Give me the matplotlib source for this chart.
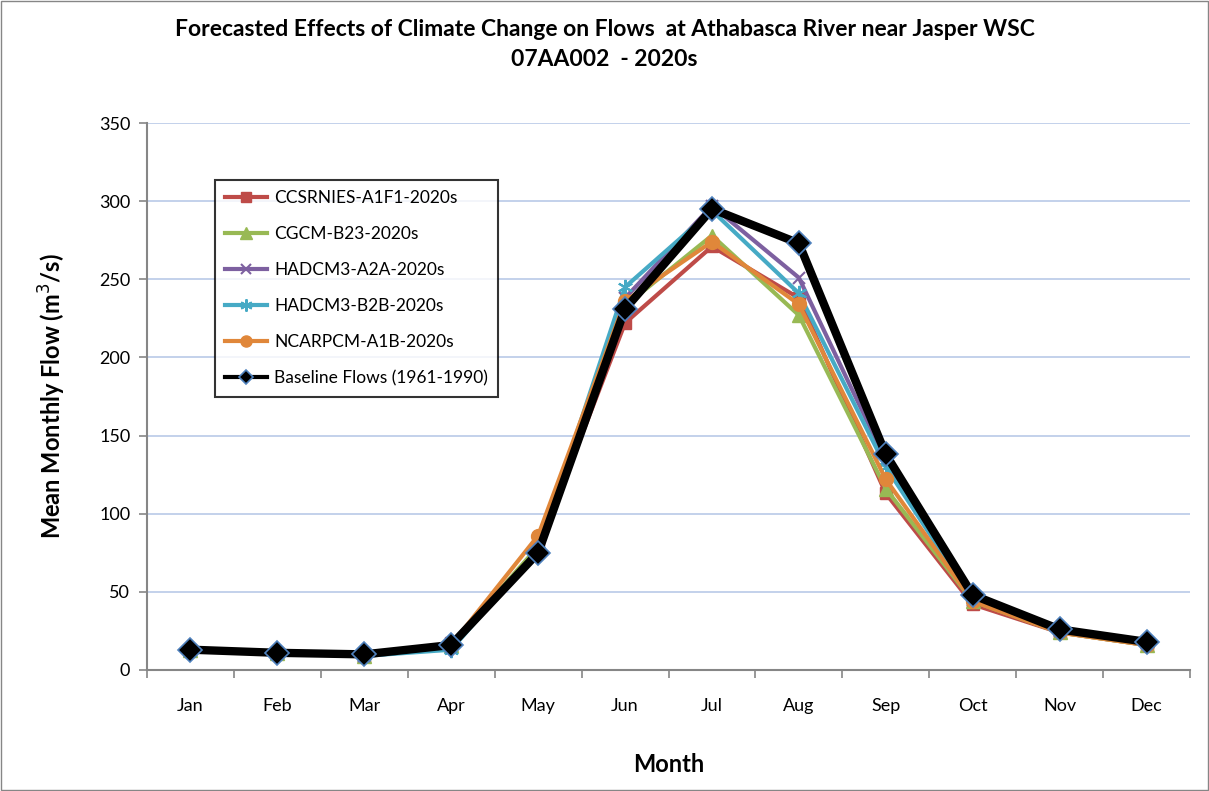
import matplotlib
matplotlib.use("Agg")
import matplotlib.pyplot as plt
from matplotlib.lines import Line2D
import numpy as np

months = ["Jan", "Feb", "Mar", "Apr", "May", "Jun", "Jul", "Aug", "Sep", "Oct", "Nov", "Dec"]

ccsrnies = [13, 11, 9, 17, 78, 222, 271, 238, 113, 42, 24, 16]
cgcm     = [13, 11, 9, 16, 79, 233, 278, 227, 116, 44, 24, 16]
hadcm_a2a = [13, 11, 9, 14, 76, 238, 297, 251, 134, 45, 25, 17]
hadcm_b2b = [13, 11, 9, 13, 77, 245, 294, 241, 130, 45, 25, 17]
ncarpcm  = [13, 11, 10, 16, 86, 236, 274, 234, 122, 44, 24, 16]
baseline = [13, 11, 10, 16, 75, 231, 295, 273, 138, 48, 26, 18]

labels = ["CCSRNIES-A1F1-2020s", "CGCM-B23-2020s", "HADCM3-A2A-2020s",
          "HADCM3-B2B-2020s", "NCARPCM-A1B-2020s", "Baseline Flows (1961-1990)"]

plt.rcParams['font.family'] = ['Lato', 'DejaVu Sans']

fig = plt.figure(figsize=(12.09, 7.91), dpi=100)
ax = fig.add_axes([147/1209, 1 - 670/791, (1190-147)/1209, (670-123)/791])

x = np.arange(len(months))
series = [
    (ccsrnies, "#BE4B48", "s", 9, {}),
    (cgcm, "#98B954", "^", 10, {}),
    (hadcm_a2a, "#7D60A0", "x", 9, {"markeredgewidth": 1.5}),
    (hadcm_b2b, "#46AAC5", (6, 2, 0), 11, {"markeredgewidth": 1.5}),
    (ncarpcm, "#E0873A", "o", 10, {}),
]
handles = []
for (vals, col, mk, ms, kw), lab in zip(series, labels[:5]):
    ax.plot(x, vals, color=col, lw=3, marker=mk, markersize=ms,
            markerfacecolor=col, markeredgecolor=col, **kw)
    handles.append(Line2D([], [], color=col, lw=3, marker=mk, markersize=ms*0.8,
                          markerfacecolor=col, markeredgecolor=col, label=lab, **kw))
ax.plot(x, baseline, color="black", lw=6, marker="D", markersize=12,
        markerfacecolor="black", markeredgecolor="#4F81BD", markeredgewidth=1.2)
handles.append(Line2D([], [], color="black", lw=3, marker="D", markersize=7,
                      markerfacecolor="black", markeredgecolor="#4F81BD", markeredgewidth=1.2,
                      label=labels[5]))

ax.set_xlim(-0.5, 11.5)
ax.set_ylim(0, 350)
ax.set_yticks(np.arange(0, 351, 50))
ax.set_xticks(x)
ax.set_xticklabels(months)
ax.set_xticks(np.arange(-0.5, 12, 1), minor=True)
ax.tick_params(axis='x', which='major', length=0, pad=20, labelsize=13)
ax.tick_params(axis='x', which='minor', length=6, color="#868686", width=1.2)
ax.tick_params(axis='y', length=6, color="#868686", width=1.2, labelsize=13, pad=6)
ax.grid(axis='y', color="#B9C9E8", lw=1.2)
ax.set_axisbelow(True)
for s in ["top", "right"]:
    ax.spines[s].set_visible(False)
for s in ["left", "bottom"]:
    ax.spines[s].set_color("#868686")
    ax.spines[s].set_linewidth(1.5)

ax.set_xlabel("Month", fontsize=17, fontweight="bold", labelpad=28)
ax.set_ylabel("Mean Monthly Flow (m$^3$/s)", fontsize=17, fontweight="bold", labelpad=22)

fig.text(0.5, 1 - 30/791, "Forecasted Effects of Climate Change on Flows  at Athabasca River near Jasper WSC",
         ha="center", va="center", fontsize=16.5, fontweight="bold")
fig.text(0.5, 1 - 60/791, "07AA002  - 2020s", ha="center", va="center", fontsize=16.5, fontweight="bold")

leg = ax.legend(handles=handles, loc="upper left", bbox_to_anchor=((215-147)/1043, (670-180)/547),
                frameon=True, fancybox=False, edgecolor="black", fontsize=12.5,
                labelspacing=1.15, handlelength=2.4, handletextpad=0.4, borderpad=0.6,
                borderaxespad=0)
leg.get_frame().set_linewidth(1.5)

fig.patches.append(plt.Rectangle((0.001, 0.001), 0.998, 0.998, transform=fig.transFigure,
                                 fill=False, edgecolor="#868686", lw=1))

fig.savefig("out.png", dpi=100)
